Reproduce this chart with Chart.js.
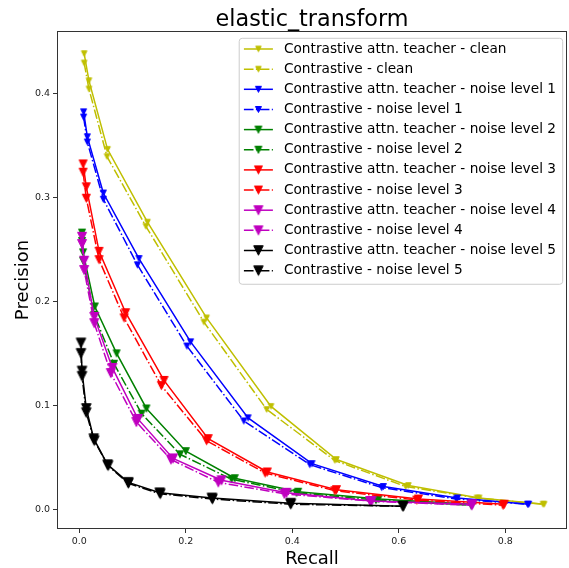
<!DOCTYPE html>
<html>
<head>
<meta charset="utf-8">
<script src="https://cdn.jsdelivr.net/npm/chart.js@4/dist/chart.umd.min.js"></script>
<style>
  html, body { margin: 0; padding: 0; background: #fff; overflow: hidden; }
</style>
</head>
<body>
<canvas id="chart" width="569" height="568"></canvas>
<script>
// Precision-recall curves under the elastic_transform corruption
const recallTeacherClean       = [0.009, 0.018, 0.053, 0.128, 0.239, 0.360, 0.483, 0.618, 0.751, 0.873];
const precisionTeacherClean    = [0.438, 0.412, 0.346, 0.276, 0.184, 0.099, 0.048, 0.023, 0.011, 0.005];
const recallContrastClean      = [0.009, 0.018, 0.052, 0.125, 0.234, 0.352, 0.480, 0.613, 0.747, 0.871];
const precisionContrastClean   = [0.429, 0.404, 0.339, 0.272, 0.180, 0.096, 0.047, 0.022, 0.011, 0.005];

const recallTeacherNoise1      = [0.008, 0.015, 0.045, 0.112, 0.209, 0.317, 0.437, 0.571, 0.710, 0.844];
const precisionTeacherNoise1   = [0.382, 0.358, 0.304, 0.241, 0.161, 0.088, 0.044, 0.022, 0.011, 0.005];
const recallContrastNoise1     = [0.008, 0.015, 0.045, 0.109, 0.202, 0.309, 0.433, 0.568, 0.708, 0.842];
const precisionContrastNoise1  = [0.377, 0.353, 0.298, 0.235, 0.157, 0.085, 0.043, 0.021, 0.010, 0.005];

const recallTeacherNoise2      = [0.005, 0.007, 0.029, 0.070, 0.126, 0.200, 0.292, 0.411, 0.562, 0.738];
const precisionTeacherNoise2   = [0.266, 0.247, 0.195, 0.150, 0.097, 0.056, 0.030, 0.017, 0.010, 0.005];
const recallContrastNoise2     = [0.005, 0.007, 0.028, 0.065, 0.117, 0.189, 0.286, 0.408, 0.557, 0.736];
const precisionContrastNoise2  = [0.258, 0.239, 0.187, 0.140, 0.092, 0.053, 0.029, 0.016, 0.009, 0.004];

const recallTeacherNoise3      = [0.007, 0.013, 0.037, 0.087, 0.159, 0.242, 0.353, 0.483, 0.637, 0.798];
const precisionTeacherNoise3   = [0.332, 0.310, 0.248, 0.189, 0.124, 0.068, 0.036, 0.019, 0.010, 0.005];
const recallContrastNoise3     = [0.007, 0.013, 0.037, 0.084, 0.154, 0.239, 0.349, 0.480, 0.634, 0.796];
const precisionContrastNoise3  = [0.324, 0.299, 0.240, 0.184, 0.119, 0.066, 0.035, 0.018, 0.009, 0.004];

const recallTeacherNoise4      = [0.005, 0.009, 0.028, 0.062, 0.110, 0.176, 0.267, 0.389, 0.549, 0.738];
const precisionTeacherNoise4   = [0.262, 0.239, 0.185, 0.136, 0.087, 0.049, 0.028, 0.016, 0.008, 0.005];
const recallContrastNoise4     = [0.005, 0.009, 0.028, 0.059, 0.107, 0.172, 0.261, 0.385, 0.546, 0.737];
const precisionContrastNoise4  = [0.255, 0.230, 0.179, 0.131, 0.084, 0.048, 0.026, 0.015, 0.008, 0.004];

const recallTeacherNoise5      = [0.003, 0.005, 0.013, 0.027, 0.053, 0.092, 0.151, 0.249, 0.397, 0.608];
const precisionTeacherNoise5   = [0.160, 0.133, 0.097, 0.068, 0.043, 0.026, 0.016, 0.011, 0.006, 0.003];
const recallContrastNoise5     = [0.003, 0.005, 0.013, 0.028, 0.054, 0.092, 0.152, 0.250, 0.397, 0.608];
const precisionContrastNoise5  = [0.150, 0.128, 0.093, 0.066, 0.042, 0.025, 0.015, 0.010, 0.005, 0.003];

const xTickValues = [0.0, 0.2, 0.4, 0.6, 0.8];
const yTickValues = [0.0, 0.1, 0.2, 0.3, 0.4];

const seriesLabels = [
  'Contrastive attn. teacher - clean',
  'Contrastive - clean',
  'Contrastive attn. teacher - noise level 1',
  'Contrastive - noise level 1',
  'Contrastive attn. teacher - noise level 2',
  'Contrastive - noise level 2',
  'Contrastive attn. teacher - noise level 3',
  'Contrastive - noise level 3',
  'Contrastive attn. teacher - noise level 4',
  'Contrastive - noise level 4',
  'Contrastive attn. teacher - noise level 5',
  'Contrastive - noise level 5'
];

const FONT = "'DejaVu Sans', 'Liberation Sans', sans-serif";
const DASH_DOT = [9.6, 2.4, 1.5, 2.4];

// styling per curve: colour, dash-dot for the plain contrastive model, marker width
const curves = [
  { recall: recallTeacherClean,  precision: precisionTeacherClean,  color: '#bfbf00', dashed: false, marker: 6.5 },
  { recall: recallContrastClean, precision: precisionContrastClean, color: '#bfbf00', dashed: true,  marker: 6.5 },
  { recall: recallTeacherNoise1, precision: precisionTeacherNoise1, color: '#0000ff', dashed: false, marker: 7 },
  { recall: recallContrastNoise1,precision: precisionContrastNoise1,color: '#0000ff', dashed: true,  marker: 7 },
  { recall: recallTeacherNoise2, precision: precisionTeacherNoise2, color: '#008000', dashed: false, marker: 8 },
  { recall: recallContrastNoise2,precision: precisionContrastNoise2,color: '#008000', dashed: true,  marker: 8 },
  { recall: recallTeacherNoise3, precision: precisionTeacherNoise3, color: '#ff0000', dashed: false, marker: 9 },
  { recall: recallContrastNoise3,precision: precisionContrastNoise3,color: '#ff0000', dashed: true,  marker: 9 },
  { recall: recallTeacherNoise4, precision: precisionTeacherNoise4, color: '#bf00bf', dashed: false, marker: 10 },
  { recall: recallContrastNoise4,precision: precisionContrastNoise4,color: '#bf00bf', dashed: true,  marker: 10 },
  { recall: recallTeacherNoise5, precision: precisionTeacherNoise5, color: '#000000', dashed: false, marker: 10.5 },
  { recall: recallContrastNoise5,precision: precisionContrastNoise5,color: '#000000', dashed: true,  marker: 10.5 }
].map((c, i) => Object.assign(c, { label: seriesLabels[i] }));

// downward-pointing triangle marker drawn into a small canvas
function triangleDown(color, size) {
  const s = Math.ceil(size) + 2;
  const cv = document.createElement('canvas');
  cv.width = s; cv.height = s;
  const g = cv.getContext('2d');
  const h = (size - 1) / 2;
  const cx = s / 2, cy = s / 2;
  g.beginPath();
  g.moveTo(cx - h, cy - h);
  g.lineTo(cx + h, cy - h);
  g.lineTo(cx, cy + h);
  g.closePath();
  g.fillStyle = color;
  g.fill();
  g.lineWidth = 1;
  g.strokeStyle = color;
  g.stroke();
  return cv;
}
curves.forEach(c => { c.markerImage = triangleDown(c.color, c.marker); });

// the title sits centred over the plotting area
const centerTitle = {
  id: 'centerTitle',
  afterLayout(chart) {
    if (chart.titleBlock) {
      chart.titleBlock.left = chart.chartArea.left;
      chart.titleBlock.right = chart.chartArea.right;
    }
  }
};

// four-sided axes frame
const axesFrame = {
  id: 'axesFrame',
  afterDatasetsDraw(chart) {
    const { ctx, chartArea: a } = chart;
    ctx.save();
    ctx.strokeStyle = '#333';
    ctx.lineWidth = 1;
    ctx.strokeRect(Math.round(a.left) + 0.5, Math.round(a.top) + 0.5,
                   Math.round(a.right) - Math.round(a.left) - 1, Math.round(a.bottom) - Math.round(a.top) - 1);
    ctx.restore();
  }
};

// boxed legend in the upper right corner, line + marker handles
const boxedLegend = {
  id: 'boxedLegend',
  afterDraw(chart) {
    const { ctx, chartArea: a } = chart;
    ctx.save();
    ctx.font = '13.7px ' + FONT;
    const textW = Math.max(...curves.map(c => ctx.measureText(c.label).width));
    const right = a.right - 4.3;
    const top = a.top + 7.3;
    const width = 44.7 + textW + 6.7;
    const left = right - width;
    const rowH = 20.15;
    const height = 10.7 + rowH * (curves.length - 1) + 13.6;
    const r = 3;
    ctx.beginPath();
    ctx.moveTo(left + r, top);
    ctx.lineTo(right - r, top);
    ctx.arcTo(right, top, right, top + r, r);
    ctx.lineTo(right, top + height - r);
    ctx.arcTo(right, top + height, right - r, top + height, r);
    ctx.lineTo(left + r, top + height);
    ctx.arcTo(left, top + height, left, top + height - r, r);
    ctx.lineTo(left, top + r);
    ctx.arcTo(left, top, left + r, top, r);
    ctx.closePath();
    ctx.fillStyle = 'rgba(255,255,255,0.8)';
    ctx.fill();
    ctx.strokeStyle = '#cccccc';
    ctx.lineWidth = 1;
    ctx.stroke();

    curves.forEach((c, i) => {
      const y = top + 10.7 + rowH * i;
      const x1 = left + 4.7, x2 = left + 33.7;
      ctx.beginPath();
      ctx.setLineDash(c.dashed ? DASH_DOT : []);
      ctx.moveTo(x1, y);
      ctx.lineTo(x2, y);
      ctx.strokeStyle = c.color;
      ctx.lineWidth = 1.5;
      ctx.stroke();
      ctx.setLineDash([]);
      const m = c.markerImage;
      ctx.drawImage(m, (x1 + x2) / 2 - m.width / 2, y - m.height / 2);
      ctx.fillStyle = '#000';
      ctx.textBaseline = 'middle';
      ctx.textAlign = 'left';
      ctx.fillText(c.label, left + 44.7, y);
    });
    ctx.restore();
  }
};

const tickFont = { family: FONT, size: 9.5 };
const axisGrid = { drawOnChartArea: false, drawTicks: true, tickLength: 4, tickColor: '#333', tickWidth: 1 };

function noEdgePadding(s) {
  s.paddingLeft = 0;
  s.paddingRight = 0;
  s.paddingTop = 0;
  s.paddingBottom = 0;
}

new Chart(document.getElementById('chart'), {
  type: 'line',
  data: {
    datasets: curves.map((c, i) => ({
      label: c.label,
      data: c.recall.map((r, k) => ({ x: r, y: c.precision[k] })),
      borderColor: c.color,
      backgroundColor: c.color,
      borderWidth: 1.5,
      borderDash: c.dashed ? DASH_DOT : [],
      pointStyle: c.markerImage,
      pointRadius: 4,
      pointHoverRadius: 4,
      tension: 0,
      fill: false,
      order: curves.length - 1 - i
    }))
  },
  options: {
    responsive: false,
    animation: false,
    events: [],
    layout: { autoPadding: false, padding: { left: 0, right: 2, top: 0, bottom: 0 } },
    plugins: {
      legend: { display: false },
      tooltip: { enabled: false },
      title: {
        display: true,
        text: 'elastic_transform',
        color: '#000',
        font: { family: FONT, size: 22.3, weight: 'normal', lineHeight: '21px' },
        padding: { top: 10, bottom: 0 }
      }
    },
    scales: {
      x: {
        type: 'linear',
        min: -0.042,
        max: 0.916,
        afterBuildTicks: s => { s.ticks = xTickValues.map(v => ({ value: v })); },
        afterFit: s => { s.height = 39; noEdgePadding(s); },
        grid: axisGrid,
        border: { display: false },
        ticks: { font: tickFont, color: '#222', padding: 3, maxRotation: 0, autoSkip: false,
                 callback: v => Number(v).toFixed(1) },
        title: { display: true, text: 'Recall', color: '#000',
                 font: { family: FONT, size: 18, lineHeight: 1 }, padding: { top: 0, bottom: 0 } }
      },
      y: {
        type: 'linear',
        min: -0.0188,
        max: 0.4597,
        afterBuildTicks: s => { s.ticks = yTickValues.map(v => ({ value: v })); },
        afterFit: s => { s.width = 57; noEdgePadding(s); },
        grid: axisGrid,
        border: { display: false },
        ticks: { font: tickFont, color: '#222', padding: 3, autoSkip: false,
                 callback: v => Number(v).toFixed(1) },
        title: { display: true, text: 'Precision', color: '#000',
                 font: { family: FONT, size: 18, lineHeight: 1 }, padding: { top: 14, bottom: 0 } }
      }
    }
  },
  plugins: [centerTitle, axesFrame, boxedLegend]
});
</script>
</body>
</html>
